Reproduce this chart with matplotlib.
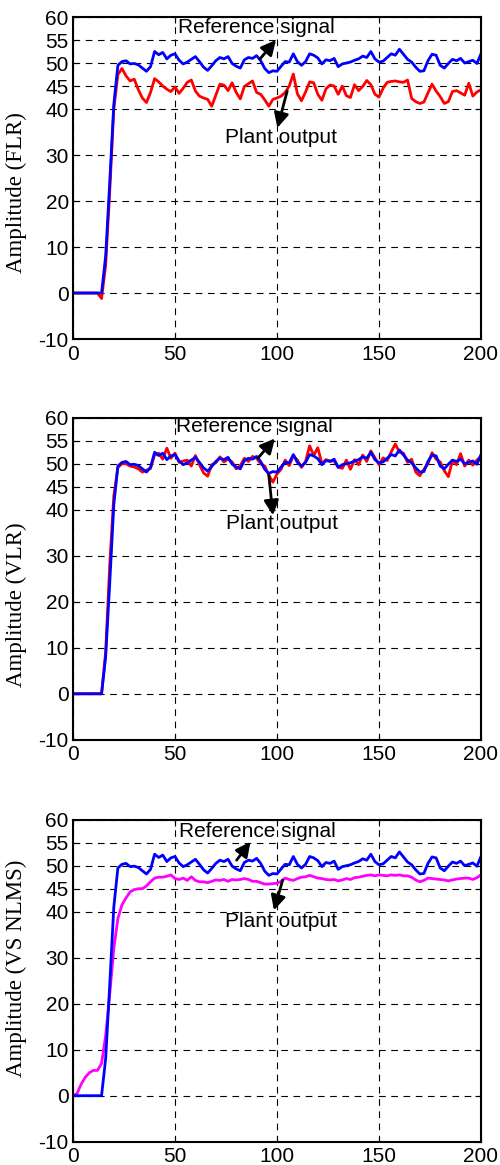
import numpy as np
import matplotlib.pyplot as plt

plt.rcParams['axes.unicode_minus'] = False

t = np.arange(0, 201, 2)

reference = [0, 0, 0, 0, 0, 0, 0, 0, 8, 24, 41, 49.5,
             50.3, 50.5, 49.8, 49.9, 49.6, 48.9, 48.2, 49.2, 52.5, 51.8,
             52.3, 50.9, 51.7, 52.0, 50.6, 49.8, 50.2, 50.8, 51.4, 50.3,
             49.1, 48.4, 49.4, 50.5, 51.2, 50.9, 51.4, 49.9, 49.3, 48.9,
             50.7, 51.2, 51.0, 51.6, 50.5, 48.8, 47.9, 48.3, 48.2, 49.3,
             50.3, 50.2, 52.0, 50.3, 49.5, 50.3, 52.0, 51.7, 51.1, 49.8,
             50.7, 50.5, 51.0, 49.2, 49.8, 50.0, 50.2, 50.6, 50.9, 51.5,
             51.2, 52.5, 50.9, 50.2, 50.4, 51.2, 52.0, 51.7, 53.0, 51.9,
             50.8, 50.2, 49.1, 48.2, 48.3, 50.5, 51.9, 51.7, 49.5, 48.9,
             49.9, 50.8, 50.5, 51.0, 50.0, 50.3, 50.6, 49.9, 52.0]

out_flr = [0, 0, 0, 0, 0, 0, 0, -1.2, 6, 22, 40, 47.5,
           48.8, 47.2, 46.1, 46.5, 44.2, 42.4, 41.4, 43.6, 46.6, 45.9,
           45.0, 44.3, 43.8, 44.8, 43.4, 44.5, 45.8, 46.3, 43.9, 42.8,
           42.4, 42.1, 40.6, 43.0, 45.4, 45.2, 44.0, 45.7, 43.6, 42.2,
           44.9, 45.5, 46.1, 43.6, 43.2, 42.0, 40.6, 42.1, 42.4, 42.8,
           43.6, 45.0, 47.6, 43.3, 41.8, 43.7, 45.9, 45.7, 43.2, 41.9,
           44.4, 45.2, 45.0, 43.2, 45.0, 42.9, 42.5, 45.3, 44.0, 44.9,
           46.2, 45.3, 43.2, 42.6, 44.5, 45.8, 46.0, 46.1, 45.9, 45.8,
           46.3, 42.3, 41.6, 41.2, 41.5, 43.5, 45.4, 43.9, 42.7, 41.2,
           41.6, 43.8, 44.0, 43.5, 43.0, 45.6, 42.8, 43.7, 44.2]

out_vlr = [0, 0, 0, 0, 0, 0, 0, 0, 9, 28, 43, 49.2,
           50.0, 50.0, 49.5, 49.3, 48.9, 48.2, 48.6, 49.0, 51.9, 52.3,
           51.0, 53.4, 51.2, 52.3, 50.3, 50.6, 50.8, 49.5, 51.8, 49.8,
           48.0, 47.3, 49.8, 50.2, 51.5, 50.4, 51.0, 50.4, 48.9, 49.6,
           51.2, 50.5, 51.6, 51.2, 50.0, 49.5, 47.5, 46.0, 47.8, 48.8,
           50.8, 49.6, 51.8, 50.8, 49.2, 50.5, 53.9, 51.8, 53.5, 50.0,
           50.9, 50.6, 50.6, 49.3, 49.0, 50.8, 48.8, 50.9, 49.8, 51.9,
           50.5, 52.8, 51.3, 49.8, 51.3, 50.7, 52.6, 54.3, 52.5, 52.3,
           50.3, 51.0, 48.2, 47.4, 48.8, 50.0, 52.4, 51.0, 50.4, 48.5,
           47.2, 50.7, 49.8, 52.2, 49.5, 50.8, 49.7, 50.8, 51.6]

out_vsnlms = [0, 0.5, 2.5, 4, 5, 5.5, 5.5, 7, 13, 22,
              32, 38.5, 41.5, 43.0, 44.3, 44.8, 45.0, 45.0, 45.6, 46.5,
              47.3, 47.5, 47.5, 47.7, 48.0, 47.2, 47.0, 47.3, 46.8, 47.6,
              46.8, 46.5, 46.5, 46.3, 46.6, 46.9, 46.8, 47.0, 46.6, 47.0,
              46.9, 47.0, 47.2, 47.0, 46.6, 46.6, 46.3, 46.0, 46.0, 46.1,
              46.2, 46.6, 47.3, 47.0, 46.8, 47.2, 47.5, 47.6, 47.9, 47.6,
              47.3, 47.2, 47.0, 46.9, 47.0, 46.7, 46.9, 47.2, 47.0, 47.4,
              47.5, 47.7, 47.9, 48.0, 47.8, 48.0, 47.9, 47.8, 48.0, 47.9,
              48.0, 47.8, 47.8, 47.5, 46.9, 46.5, 46.8, 47.3, 47.2, 47.1,
              47.0, 46.9, 46.7, 46.9, 47.1, 47.2, 47.3, 47.3, 47.0, 47.4,
              48.0]

outputs = [out_flr, out_vlr, out_vsnlms]
out_colors = ['red', 'red', 'magenta']
ylabels = ['Amplitude (FLR)', 'Amplitude (VLR)', 'Amplitude (VS NLMS)']
yticks = [-10, 0, 10, 20, 30, 40, 45, 50, 55, 60]
xticks = [0, 50, 100, 150, 200]

# annotation positions (text x, text y, arrow tail, arrow head) per panel
ref_txt = [(89.7, 57.8), (88.7, 58.0), (90.3, 57.5)]
ref_arrow = [((91.7, 50.9), (99.5, 55.0)), ((90.8, 51.3), (99.0, 55.5)),
             ((80.2, 51.2), (87.0, 55.2))]
plant_txt = [(102.0, 33.8), (102.5, 37.1), (101.8, 37.8)]
plant_arrow = [((105.0, 43.9), (100.2, 35.9)), ((96.0, 47.5), (98.0, 38.8)),
               ((102.8, 46.9), (98.5, 40.3))]
label_y = [0.455, 0.42, 0.54]

fig = plt.figure(figsize=(5, 11.65), dpi=100)
bottoms = [0.709, 0.365, 0.02]

for i in range(3):
    ax = fig.add_axes([0.146, bottoms[i], 0.816, 0.2764])
    ax.plot(t, outputs[i], color=out_colors[i], lw=2)
    ax.plot(t, reference, color='blue', lw=2)
    ax.set_xlim(0, 200)
    ax.set_ylim(-10, 60)
    ax.set_xticks(xticks)
    ax.set_yticks(yticks)
    ax.grid(True, color='black', linestyle=(0, (6, 5)), lw=0.8)
    ax.tick_params(direction='in', top=True, right=True, labelsize=15,
                   length=4)
    ax.tick_params(axis='y', pad=3)
    ax.tick_params(axis='x', pad=4)
    for lab in ax.get_xticklabels() + ax.get_yticklabels():
        lab.set_family('Liberation Sans')
    for s in ax.spines.values():
        s.set_linewidth(1.5)
    ax.set_ylabel(ylabels[i], family='Liberation Serif', fontsize=16.5)
    ax.yaxis.set_label_coords(-0.113, label_y[i])

    ax.text(ref_txt[i][0], ref_txt[i][1], 'Reference signal', ha='center',
            va='center', fontsize=15, family='Liberation Sans')
    ax.text(plant_txt[i][0], plant_txt[i][1], 'Plant output', ha='center',
            va='center', fontsize=15, family='Liberation Sans')
    ax.annotate('', xy=ref_arrow[i][1], xytext=ref_arrow[i][0],
                arrowprops=dict(arrowstyle='-|>', color='black', lw=2,
                                mutation_scale=22, shrinkA=0, shrinkB=0))
    ax.annotate('', xy=plant_arrow[i][1], xytext=plant_arrow[i][0],
                arrowprops=dict(arrowstyle='-|>', color='black', lw=2,
                                mutation_scale=22, shrinkA=0, shrinkB=0))

fig.savefig('out.png', dpi=100)
